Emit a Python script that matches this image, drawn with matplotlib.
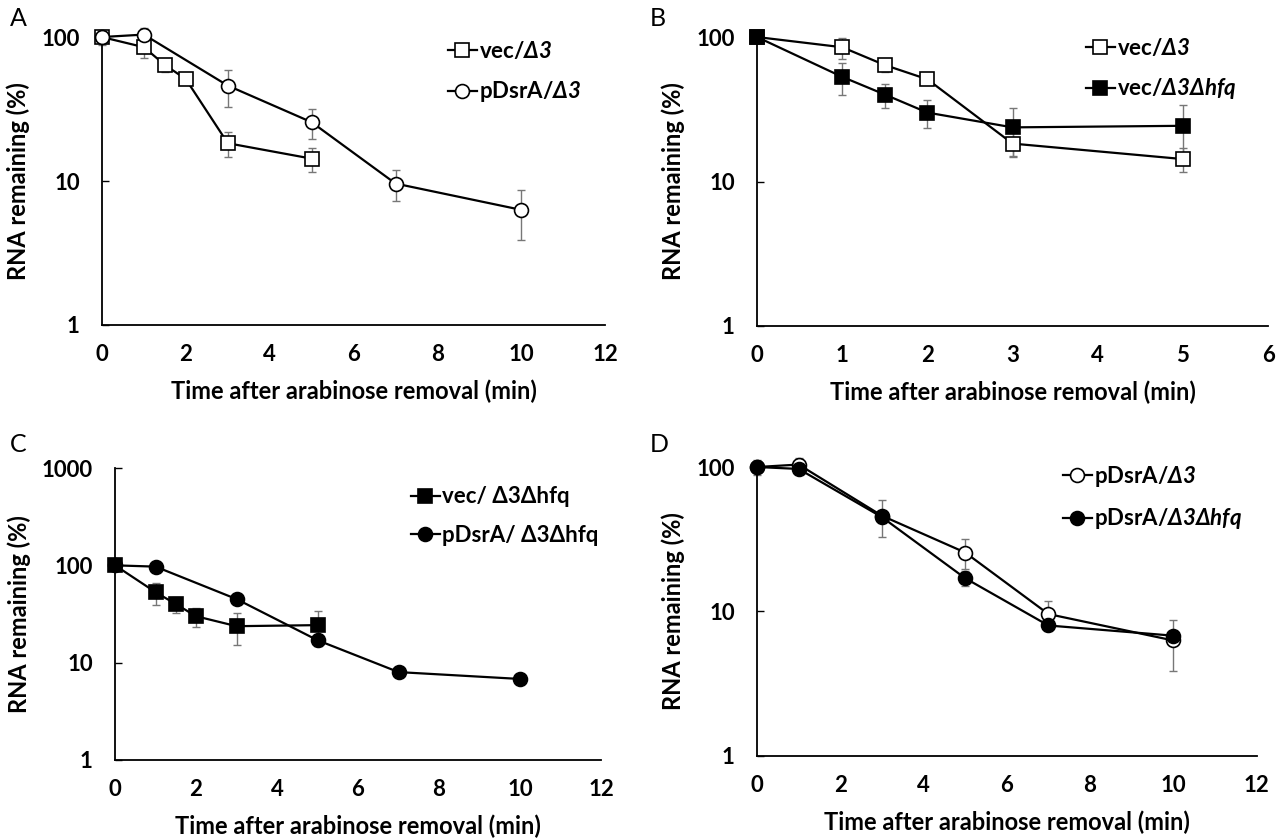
import numpy as np
import matplotlib.pyplot as plt

plt.rcParams['font.family'] = ['Lato', 'DejaVu Sans']
plt.rcParams['mathtext.fontset'] = 'custom'
plt.rcParams['mathtext.rm'] = 'Lato:bold'
plt.rcParams['mathtext.sf'] = 'Lato:bold:italic'

# time points (min)
t_vec = [0, 1, 1.5, 2, 3, 5]
t_pds = [0, 1, 3, 5, 7, 10]

# RNA remaining (%) and SD
vec_d3 = [100, 85, 64, 51, 18.3, 14.3]
vec_d3_sd = [0, 14, 6.5, 3, 3.6, 2.7]
vec_d3hfq = [100, 53, 40, 30, 23.7, 24.3]
vec_d3hfq_sd = [0, 13.5, 7.5, 6.6, 8.6, 9.5]
pds_d3 = [100, 104, 46, 25.6, 9.6, 6.3]
pds_d3_sd = [12, 12, 13.3, 6, 2.3, 2.4]
pds_d3hfq = [100, 97, 45, 17, 8, 6.8]
pds_d3hfq_sd = [3, 4, 4, 2, 0.6, 0.5]

fig = plt.figure(figsize=(12.84, 8.38), dpi=100)

def series(ax, x, y, sd, marker, filled, label):
    ax.errorbar(x, y, yerr=sd, fmt='none', ecolor='#777777', elinewidth=1,
                capsize=3, capthick=1, zorder=2, clip_on=False)
    ln, = ax.plot(x, y, color='black', lw=1.6, marker=marker, ms=9.5 if marker == 's' else 10,
                  mfc='black' if filled else 'white', mec='black', mew=1.2,
                  zorder=3, clip_on=False, label=label)
    return ln

def style(ax, xmax, xstep, ymax):
    ax.set_yscale('log')
    ax.set_xlim(0, xmax)
    ax.set_ylim(1, ymax)
    ax.set_xticks(np.arange(0, xmax + 0.01, xstep))
    yt = [1, 10, 100] + ([1000] if ymax >= 1000 else [])
    ax.set_yticks(yt)
    ax.set_yticklabels([str(v) for v in yt])
    ax.yaxis.set_minor_locator(plt.NullLocator())
    for s in ['top', 'right']:
        ax.spines[s].set_visible(False)
    for s in ['left', 'bottom']:
        ax.spines[s].set_linewidth(1.3)
    ax.tick_params(axis='x', length=0, pad=14, labelsize=16)
    ax.tick_params(axis='y', direction='in', length=5, width=1, pad=16, labelsize=16)
    for lab in ax.get_xticklabels() + ax.get_yticklabels():
        lab.set_fontweight('bold')
    ax.set_xlabel('Time after arabinose removal (min)', fontsize=17, fontweight='bold', labelpad=10)
    ax.set_ylabel('RNA remaining (%)', fontsize=17, fontweight='bold', labelpad=8)

def legend(ax, handles, x, y):
    ax.legend(handles=handles, loc='upper left', bbox_to_anchor=(x, y), frameon=False,
              borderpad=0, handletextpad=0.1, handlelength=1.3, labelspacing=0.8,
              prop={'family': 'Lato', 'weight': 'bold', 'size': 16})

# A
axA = fig.add_axes([0.0794, 0.6122, 0.392, 0.3436])
h1 = series(axA, t_vec, vec_d3, vec_d3_sd, 's', False, r'vec/$\mathsf{\Delta 3}$')
h2 = series(axA, t_pds, pds_d3, pds_d3_sd, 'o', False, r'pDsrA/$\mathsf{\Delta 3}$')
style(axA, 12, 2, 100)
legend(axA, [h1, h2], 0.665, 1.03)

# B
axB = fig.add_axes([0.5896, 0.611, 0.398, 0.3448])
h1 = series(axB, t_vec, vec_d3, vec_d3_sd, 's', False, r'vec/$\mathsf{\Delta 3}$')
h2 = series(axB, t_vec, vec_d3hfq, vec_d3hfq_sd, 's', True, r'vec/$\mathsf{\Delta 3\Delta hfq}$')
style(axB, 6, 1, 100)
legend(axB, [h1, h2], 0.622, 1.04)

# C
axC = fig.add_axes([0.0896, 0.0931, 0.3785, 0.3484])
h1 = series(axC, t_vec, vec_d3hfq, vec_d3hfq_sd, 's', True, 'vec/ Δ3Δhfq')
h2 = series(axC, t_pds, pds_d3hfq, pds_d3hfq_sd, 'o', True, 'pDsrA/ Δ3Δhfq')
style(axC, 12, 2, 1000)
legend(axC, [h1, h2], 0.586, 0.975)

# D
axD = fig.add_axes([0.5896, 0.0979, 0.389, 0.3448])
h1 = series(axD, t_pds, pds_d3, pds_d3_sd, 'o', False, r'pDsrA/$\mathsf{\Delta 3}$')
h2 = series(axD, t_pds, pds_d3hfq, pds_d3hfq_sd, 'o', True, r'pDsrA/$\mathsf{\Delta 3\Delta hfq}$')
style(axD, 12, 2, 100)
legend(axD, [h1, h2], 0.59, 1.05)

for letter, (x, y) in zip('ABCD', [(0.008, 0.978), (0.506, 0.978), (0.008, 0.47), (0.506, 0.47)]):
    fig.text(x, y, letter, fontsize=18, va='center', ha='left')

fig.savefig('out.png', dpi=100)
